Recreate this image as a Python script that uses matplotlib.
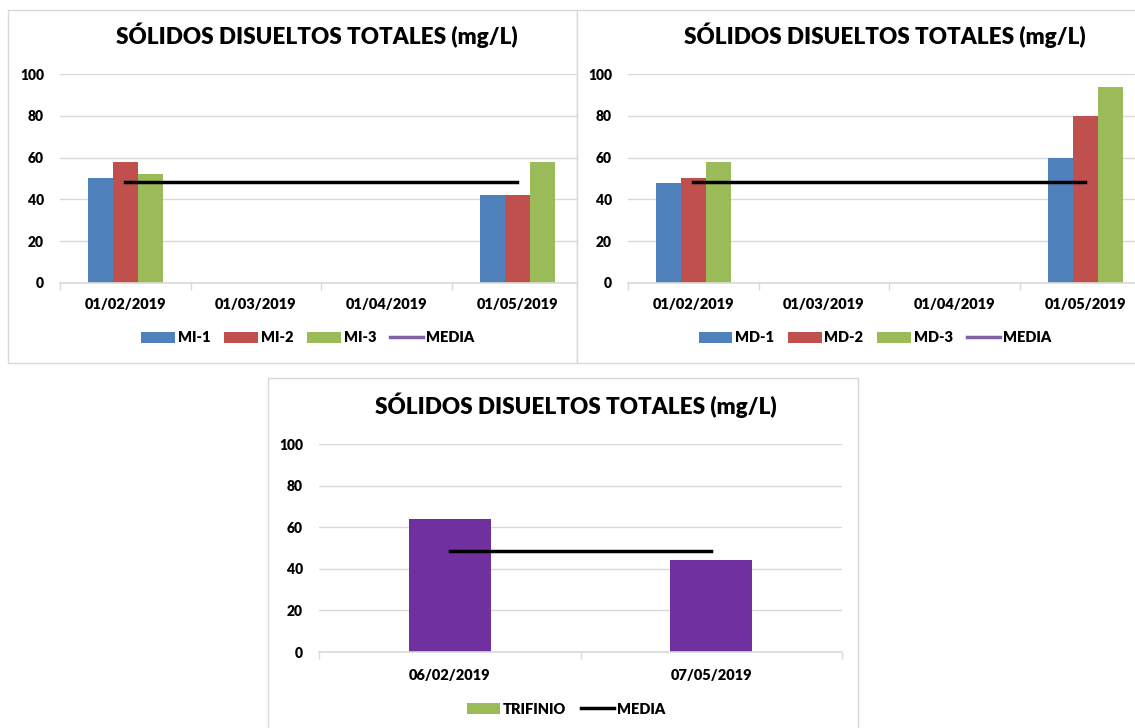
import numpy as np
import matplotlib
matplotlib.use("Agg")
import matplotlib.pyplot as plt
from matplotlib.patches import Rectangle, Patch
from matplotlib.lines import Line2D

plt.rcParams['font.family'] = ['Lato', 'DejaVu Sans']
plt.rcParams['font.weight'] = 'heavy'
WEIGHT = 'heavy'

# ---- data ----
months = ['01/02/2019', '01/03/2019', '01/04/2019', '01/05/2019']
mi_1 = [50, np.nan, np.nan, 42]
mi_2 = [58, np.nan, np.nan, 42]
mi_3 = [52, np.nan, np.nan, 58]
media_mi = [48.5, 48.5, 48.5, 48.5]

md_1 = [48, np.nan, np.nan, 60]
md_2 = [50, np.nan, np.nan, 80]
md_3 = [58, np.nan, np.nan, 94]
media_md = [48.5, 48.5, 48.5, 48.5]

trifinio_dates = ['06/02/2019', '07/05/2019']
trifinio = [64, 44]
media_trifinio = [48.5, 48.5]

TITLE = 'SÓLIDOS DISUELTOS TOTALES (mg/L)'
BLUE, RED, GREEN = '#4F81BD', '#C0504D', '#9BBB59'
PURPLE_BAR, PURPLE_LINE = '#7030A0', '#8064A2'
GRID = '#D9D9D9'

W, H = 1135, 728
fig = plt.figure(figsize=(W / 100, H / 100), dpi=100)
fig.patch.set_facecolor('white')


def fx(x):
    return x / W


def fy(y):
    return 1 - y / H


def px_axes(x0, y0, x1, y1):
    return fig.add_axes([fx(x0), fy(y1), (x1 - x0) / W, (y1 - y0) / H])


def panel(x0, y0, x1, y1):
    fig.add_artist(Rectangle((fx(x0), fy(y1)), (x1 - x0) / W, (y1 - y0) / H,
                             transform=fig.transFigure, facecolor='white',
                             edgecolor=GRID, linewidth=1.0, zorder=0))


def style_axes(ax, labels, xmax):
    n = len(labels)
    ax.set_yticks([0, 20, 40, 60, 80, 100])
    ax.set_xticks(range(n))
    ax.set_xticklabels(labels, fontsize=10.5, fontweight=WEIGHT)
    ax.set_xticks(np.arange(-0.5, n, 1.0), minor=True)
    # limits after the ticks, so the category spacing stays fixed
    ax.set_ylim(0, 100)
    ax.set_xlim(-0.5, xmax)
    ax.tick_params(axis='x', which='major', length=0, pad=11)
    ax.tick_params(axis='x', which='minor', length=5, color=GRID, width=1)
    ax.tick_params(axis='y', length=0, pad=11.5, labelsize=10)
    for lab in ax.get_yticklabels():
        lab.set_fontweight(WEIGHT)
    ax.grid(axis='y', color=GRID, linewidth=1)
    ax.set_axisbelow(True)
    for s in ['left', 'right', 'top']:
        ax.spines[s].set_visible(False)
    ax.spines['bottom'].set_color(GRID)
    ax.spines['bottom'].set_linewidth(1.2)
    ax.set_facecolor('none')


def grouped_panel(ax, series, colors, names, media, xmax, legend_center):
    x = np.arange(len(months))
    w = 0.19
    for i, (vals, c) in enumerate(zip(series, colors)):
        ax.bar(x + (i - 1) * w, vals, width=w, color=c, zorder=2)
    ax.plot(x, media, color='black', linewidth=2.5, zorder=3)
    style_axes(ax, months, xmax)
    handles = [Patch(facecolor=c) for c in colors]
    handles.append(Line2D([0], [0], color=PURPLE_LINE, linewidth=2.5))
    ax.legend(handles, names + ['MEDIA'], loc='center',
              bbox_to_anchor=(fx(legend_center[0]), fy(legend_center[1])),
              bbox_transform=fig.transFigure, ncol=4, frameon=False,
              handlelength=2.3, handleheight=0.72,
              handletextpad=0.2, columnspacing=0.95,
              prop={'weight': WEIGHT, 'size': 10.5})


# ---- panel frames ----
panel(8, 10, 577, 363)
panel(577, 10, 1140, 363)
panel(268, 378, 858, 740)

# ---- top-left chart ----
ax1 = px_axes(60, 74, 577, 283)
grouped_panel(ax1, [mi_1, mi_2, mi_3], [BLUE, RED, GREEN],
              ['MI-1', 'MI-2', 'MI-3'], media_mi,
              -0.5 + (577 - 60) / 130.7, (308, 338))
fig.text(fx(317), fy(35), TITLE, ha='center', va='center',
         fontsize=16.2, fontweight=WEIGHT)

# ---- top-right chart ----
ax2 = px_axes(628, 74, 1135, 283)
grouped_panel(ax2, [md_1, md_2, md_3], [BLUE, RED, GREEN],
              ['MD-1', 'MD-2', 'MD-3'], media_md,
              -0.5 + (1135 - 628) / 130.7, (875, 338))
fig.text(fx(885), fy(35), TITLE, ha='center', va='center',
         fontsize=16.2, fontweight=WEIGHT)

# ---- bottom chart ----
ax3 = px_axes(319, 444, 842, 652)
xb = np.arange(len(trifinio_dates))
ax3.bar(xb, trifinio, width=0.314, color=PURPLE_BAR, zorder=2)
ax3.plot(xb, media_trifinio, color='black', linewidth=2.5, zorder=3)
style_axes(ax3, trifinio_dates, 1.5)
ax3.tick_params(axis='x', which='major', pad=12)
ax3.legend([Patch(facecolor=GREEN), Line2D([0], [0], color='black', linewidth=2.5)],
           ['TRIFINIO', 'MEDIA'], loc='center',
           bbox_to_anchor=(fx(566), fy(709)), bbox_transform=fig.transFigure,
           ncol=2, frameon=False, handlelength=2.3, handleheight=0.72,
           handletextpad=0.2, columnspacing=1.0,
           prop={'weight': WEIGHT, 'size': 10.5})
fig.text(fx(576), fy(405), TITLE, ha='center', va='center',
         fontsize=16.2, fontweight=WEIGHT)

fig.savefig('out.png', dpi=100, facecolor='white')
